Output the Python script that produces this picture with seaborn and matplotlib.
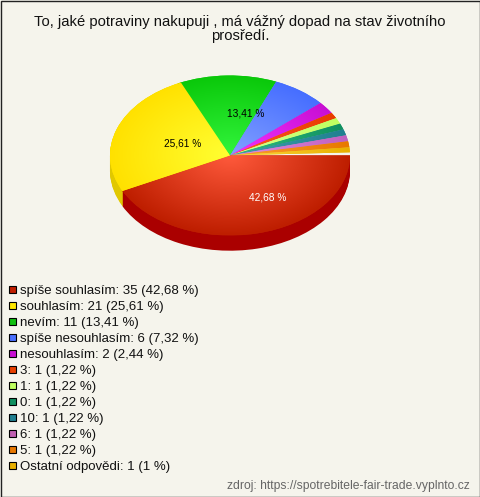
"""Czech survey answers as a glossy fake-3D pie with a plain legend below it."""

import numpy as np
import matplotlib
matplotlib.use("Agg")
import matplotlib.pyplot as plt
from matplotlib.patches import Rectangle
import seaborn as sns

TITLE = "To, jaké potraviny nakupuji , má vážný dopad na stav životního\nprosředí."
SOURCE = "zdroj: https://spotrebitele-fair-trade.vyplnto.cz"

answers = ["spíše souhlasím", "souhlasím", "nevím", "spíše nesouhlasím", "nesouhlasím",
           "3", "1", "0", "10", "6", "5", "Ostatní odpovědi"]
counts = [35, 21, 11, 6, 2, 1, 1, 1, 1, 1, 1, 1]
percents = [42.68, 25.61, 13.41, 7.32, 2.44, 1.22, 1.22, 1.22, 1.22, 1.22, 1.22, 1]
percent_labels = ["42,68", "25,61", "13,41", "7,32", "2,44", "1,22", "1,22", "1,22",
                  "1,22", "1,22", "1,22", "1"]

# centre of slice -> rim of slice
light_colors = ["#ff5a3c", "#ffff32", "#32f53c", "#82a0ff", "#f032ff", "#ff5a20",
                "#d8ff90", "#30c080", "#40a0b0", "#e090e0", "#ffa030", "#ffd840"]
rim_colors = ["#be1e00", "#ffe100", "#0ac80a", "#466eff", "#c80fd2", "#e83c00",
              "#c0ff60", "#109060", "#208090", "#c060c0", "#e87800", "#e8b000"]
side_colors = ["#aa0000", "#e1c800"]  # only the two front slices show a wall
legend_colors = ["#c01e00", "#ffe800", "#10c010", "#4a70ff", "#c80fd2", "#e84000",
                 "#c0ff60", "#109060", "#208090", "#c060b0", "#e87800", "#e8b000"]

BG = "#f5f4ec"
NO_EDGE = {"linewidth": 0, "edgecolor": "none"}
BACK_ROTATION = 1.5  # degrees, opens the thin gap above the red slice

sns.set_theme(style="white")
plt.rcParams["font.family"] = ["Liberation Sans", "DejaVu Sans"]

fig = plt.figure(figsize=(4.8, 4.97), dpi=100, facecolor=BG)

# text and legend live on a pixel-sized layer
layer = fig.add_axes([0, 0, 1, 1])
layer.set_xlim(0, 480)
layer.set_ylim(497, 0)
layer.axis("off")

layer.text(240, 29, TITLE, ha="center", va="center", fontsize=10.6, color="#111111",
           linespacing=1.0)
for i, (name, n, pct, col) in enumerate(zip(answers, counts, percent_labels, legend_colors)):
    y = 289 + i * 16.0
    layer.add_patch(Rectangle((9, y - 3.5), 7, 7, facecolor=col, edgecolor="black", lw=0.8))
    layer.text(20, y + 5, f"{name}: {n} ({pct} %)", va="baseline", fontsize=9.55, color="#111111")
layer.text(470, 489, SOURCE, ha="right", va="baseline", fontsize=8.77, color="#666666")
layer.add_patch(Rectangle((0.5, 0.5), 479, 496, fill=False, edgecolor="#222222", lw=1))

# pie axes: 1 data unit = 120 px across, 80 px down
pie_ax = fig.add_axes([98 / 480, 1 - 267.5 / 497, 264 / 480, 200 / 497])
fractions = np.array(percents) / 100
front, back = fractions[:2], fractions[2:]

for d in np.arange(0.19, 0, -0.0125):
    pie_ax.pie(front, colors=side_colors, counterclock=False, startangle=0,
               normalize=False, center=(0, -d), wedgeprops=NO_EDGE)

# back slices first so the yellow slice covers the rotated start of the green one
back_start = BACK_ROTATION - front.sum() * 360
back_wedges, _ = pie_ax.pie(back, colors=rim_colors[2:], counterclock=False,
                            startangle=back_start, normalize=False, wedgeprops=NO_EDGE)
front_wedges, _ = pie_ax.pie(front, colors=rim_colors[:2], counterclock=False,
                             startangle=0, normalize=False, wedgeprops=NO_EDGE)

gx, gy = np.meshgrid(np.linspace(-1, 1, 300), np.linspace(-1, 1, 300))
radial = np.sqrt(gx ** 2 + gy ** 2)
draw_order = list(zip(back_wedges, light_colors[2:], rim_colors[2:]))
draw_order += list(zip(front_wedges, light_colors[:2], rim_colors[:2]))
for wedge, light, rim in draw_order:
    cmap = sns.blend_palette([light, rim], as_cmap=True)
    im = pie_ax.imshow(radial, extent=(-1, 1, -1, 1), origin="lower", cmap=cmap,
                       vmin=0, vmax=1, aspect="auto", zorder=3)
    im.set_clip_path(wedge)

pie_ax.set_aspect("auto")
pie_ax.set_xlim(-1.1, 1.1)
pie_ax.set_ylim(-1.4, 1.1)
pie_ax.axis("off")

layer.set_zorder(2)
layer.text(268, 197, "42,68 %", ha="center", va="center", fontsize=7.3, color="white")
layer.text(182.5, 144, "25,61 %", ha="center", va="center", fontsize=7.3, color="black")
layer.text(246, 113, "13,41 %", ha="center", va="center", fontsize=7.3, color="black")

fig.savefig("out.png", dpi=100, facecolor=BG)
plt.close(fig)
